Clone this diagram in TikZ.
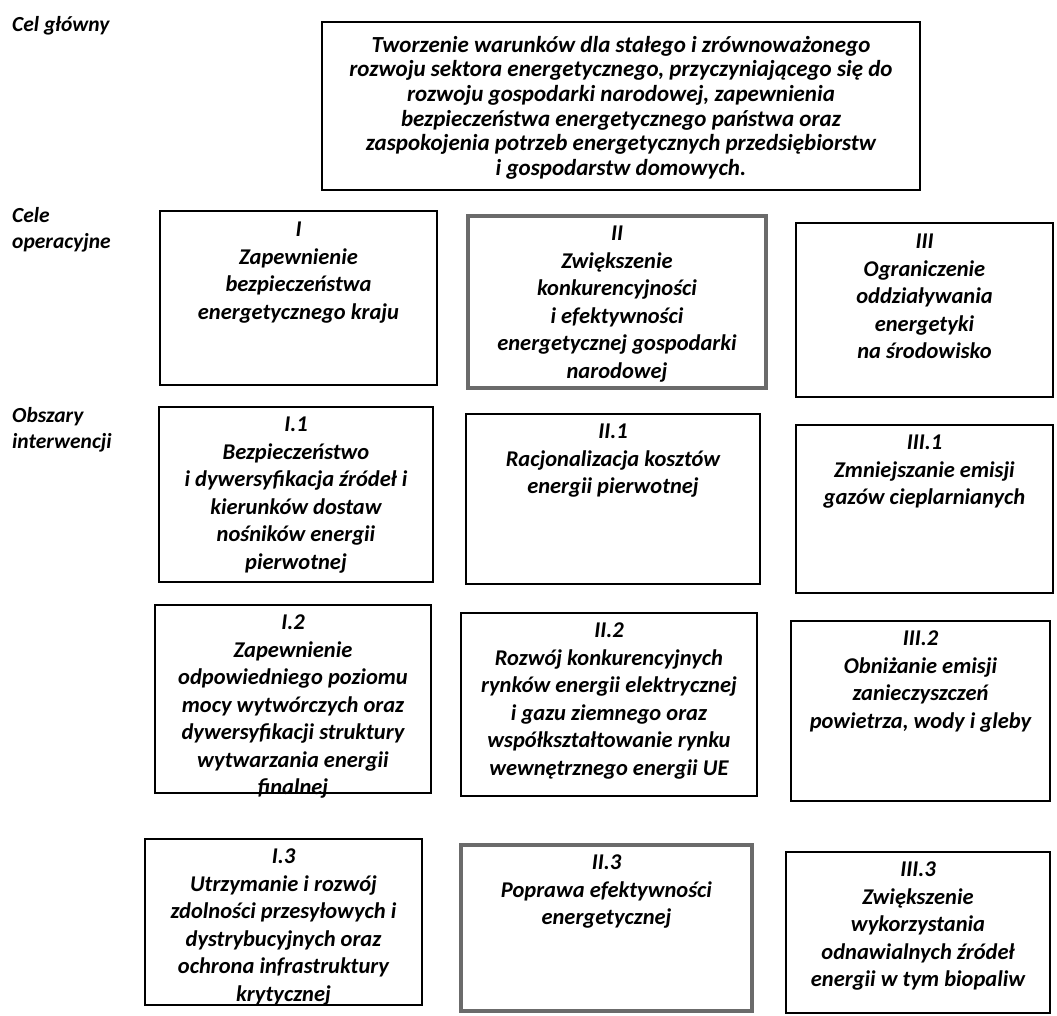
\documentclass[tikz,border=0pt]{standalone}
\usepackage{fontspec}
\setmainfont{Carlito}
\begin{document}
\begin{tikzpicture}[x=1pt,y=-1pt,
  box/.style={draw=black, line width=1.5pt, anchor=north west, inner sep=0pt, outer sep=0pt},
  mainbox/.style={box, line width=1.9pt},
  greybox/.style={box, draw=black!58, line width=4.5pt},
  txt/.style={anchor=north, align=center, inner sep=0pt, font=\fontsize{22.5}{27.5}\selectfont\bfseries\itshape},
  maintxt/.style={txt, font=\fontsize{23}{24.6}\selectfont\bfseries\itshape},
  lbl/.style={anchor=north west, align=left, inner sep=0pt, font=\fontsize{21.5}{26}\selectfont\bfseries\itshape}]
\useasboundingbox (0,0) rectangle (1057,1016);
\fill[white] (0,0) rectangle (1057,1016);

% row labels
\node[lbl] (lcel) at (12,16) {Cel główny};
\node[lbl] (lcele) at (12,207) {Cele\\operacyjne};
\node[lbl] (lobsz) at (12,407) {Obszary\\interwencji};

% main goal
\node[mainbox, minimum width=598pt, minimum height=168pt] (m) at (322,22) {};
\node[maintxt] (mt) at ([yshift=-14pt]m.north) {Tworzenie warunków dla stałego i zrównoważonego\\rozwoju sektora energetycznego, przyczyniającego się do\\rozwoju gospodarki narodowej, zapewnienia\\bezpieczeństwa energetycznego państwa oraz\\zaspokojenia potrzeb energetycznych przedsiębiorstw\\i gospodarstw domowych.};

% operational goals
\node[box, minimum width=277pt, minimum height=174pt] (c1) at (160,211) {};
\node[txt] (c1t) at ([yshift=-11pt]c1.north) {I\\Zapewnienie\\bezpieczeństwa\\energetycznego kraju};
\node[greybox, minimum width=298pt, minimum height=172pt] (c2) at (468,216) {};
\node[txt] (c2t) at ([yshift=-10pt]c2.north) {II\\Zwiększenie\\konkurencyjności\\i efektywności\\energetycznej gospodarki\\narodowej};
\node[box, minimum width=257pt, minimum height=174pt] (c3) at (796,223) {};
\node[txt] (c3t) at ([yshift=-11pt]c3.north) {III\\Ograniczenie\\oddziaływania\\energetyki\\na środowisko};

% areas row 1
\node[box, minimum width=274pt, minimum height=175pt] (a11) at (159,407) {};
\node[txt] (a11t) at ([yshift=-10pt]a11.north) {I.1\\Bezpieczeństwo\\i dywersyfikacja źródeł i\\kierunków dostaw\\nośników energii\\pierwotnej};
\node[box, minimum width=294pt, minimum height=170pt] (a21) at (466,414) {};
\node[txt] (a21t) at ([yshift=-10pt]a21.north) {II.1\\Racjonalizacja kosztów\\energii pierwotnej};
\node[box, minimum width=257pt, minimum height=168pt] (a31) at (796,425) {};
\node[txt] (a31t) at ([yshift=-10pt]a31.north) {III.1\\Zmniejszanie emisji\\gazów cieplarnianych};

% areas row 2
\node[box, minimum width=276pt, minimum height=188pt] (a12) at (155,605) {};
\node[txt] (a12t) at ([yshift=-10pt]a12.north) {I.2\\Zapewnienie\\odpowiedniego poziomu\\mocy wytwórczych oraz\\dywersyfikacji struktury\\wytwarzania energii\\finalnej};
\node[box, minimum width=296pt, minimum height=183pt] (a22) at (461,613) {};
\node[txt] (a22t) at ([yshift=-10pt]a22.north) {II.2\\Rozwój konkurencyjnych\\rynków energii elektrycznej\\i gazu ziemnego oraz\\współkształtowanie rynku\\wewnętrznego energii UE};
\node[box, minimum width=259pt, minimum height=180pt] (a32) at (791,621) {};
\node[txt] (a32t) at ([yshift=-10pt]a32.north) {III.2\\Obniżanie emisji\\zanieczyszczeń\\powietrza, wody i gleby};

% areas row 3
\node[box, minimum width=277pt, minimum height=166pt] (a13) at (145,839) {};
\node[txt] (a13t) at ([yshift=-10pt]a13.north) {I.3\\Utrzymanie i rozwój\\zdolności przesyłowych i\\dystrybucyjnych oraz\\ochrona infrastruktury\\krytycznej};
\node[greybox, minimum width=291pt, minimum height=166pt] (a23) at (461,845) {};
\node[txt] (a23t) at ([yshift=-10pt]a23.north) {II.3\\Poprawa efektywności\\energetycznej};
\node[box, minimum width=264pt, minimum height=161pt] (a33) at (786,852) {};
\node[txt] (a33t) at ([yshift=-10pt]a33.north) {III.3\\Zwiększenie\\wykorzystania\\odnawialnych źródeł\\energii w tym biopaliw};
\end{tikzpicture}
\end{document}
